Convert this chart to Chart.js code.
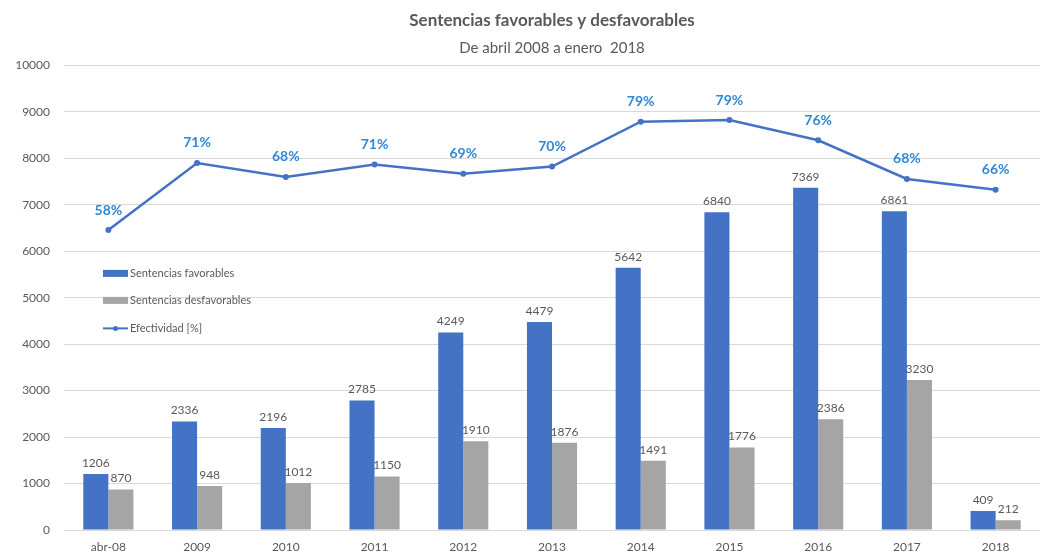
<!DOCTYPE html>
<html>
<head>
<meta charset="utf-8">
<script src="https://cdn.jsdelivr.net/npm/chart.js@4.4.1/dist/chart.umd.min.js"></script>
<style>
  html, body { margin: 0; padding: 0; background: #fff; overflow: hidden; }
  canvas { display: block; }
</style>
</head>
<body>
<canvas id="grafico" width="1048" height="558"></canvas>
<script>
// datos
var categorias = ['abr-08', '2009', '2010', '2011', '2012', '2013', '2014', '2015', '2016', '2017', '2018'];
var favorables = [1206, 2336, 2196, 2785, 4249, 4479, 5642, 6840, 7369, 6861, 409];
var desfavorables = [870, 948, 1012, 1150, 1910, 1876, 1491, 1776, 2386, 3230, 212];
var efectividad = [58.1, 71.1, 68.4, 70.8, 69.0, 70.4, 79.1, 79.4, 75.5, 68.0, 65.9]; // %

var gris = '#595959';
var fuente = 'Lato, "Open Sans", sans-serif';

// etiquetas de valores + leyenda dentro del area
var etiquetas = {
  id: 'etiquetas',
  afterDatasetsDraw: function (chart) {
    var ctx = chart.ctx;
    ctx.save();
    ctx.textAlign = 'center';
    // barras
    [0, 1].forEach(function (i) {
      var meta = chart.getDatasetMeta(i);
      var valores = chart.data.datasets[i].data;
      ctx.font = '12px ' + fuente;
      ctx.fillStyle = gris;
      ctx.textBaseline = 'bottom';
      meta.data.forEach(function (el, j) {
        ctx.fillText(valores[j], el.x, el.y - 5);
      });
    });
    // porcentajes
    var metaL = chart.getDatasetMeta(2);
    ctx.font = 'bold 14px ' + fuente;
    ctx.fillStyle = '#2F88D6';
    ctx.textBaseline = 'middle';
    metaL.data.forEach(function (el, j) {
      ctx.fillText(Math.round(efectividad[j]) + '%', el.x, el.y - 20);
    });

    // leyenda
    var a = chart.chartArea;
    var x0 = a.left + 39;
    var ys = [a.top + 208, a.top + 235, a.top + 263];
    ctx.textAlign = 'left';
    ctx.font = '11px ' + fuente;
    chart.data.datasets.forEach(function (ds, i) {
      var y = ys[i];
      if (ds.type === 'line') {
        ctx.strokeStyle = ds.borderColor;
        ctx.lineWidth = 2;
        ctx.beginPath();
        ctx.moveTo(x0, y);
        ctx.lineTo(x0 + 25, y);
        ctx.stroke();
        ctx.fillStyle = ds.borderColor;
        ctx.beginPath();
        ctx.arc(x0 + 12.5, y, 2.5, 0, Math.PI * 2);
        ctx.fill();
      } else {
        ctx.fillStyle = ds.backgroundColor;
        ctx.fillRect(x0, y - 3.5, 25, 7);
      }
      ctx.fillStyle = gris;
      ctx.fillText(ds.label, x0 + 27, y);
    });
    ctx.restore();
  }
};

new Chart(document.getElementById('grafico'), {
  data: {
    labels: categorias,
    datasets: [
      {
        type: 'bar',
        label: 'Sentencias favorables',
        data: favorables,
        backgroundColor: '#4472C4',
        categoryPercentage: 0.565,
        barPercentage: 1.0,
        yAxisID: 'y',
        order: 2
      },
      {
        type: 'bar',
        label: 'Sentencias desfavorables',
        data: desfavorables,
        backgroundColor: '#A5A5A5',
        categoryPercentage: 0.565,
        barPercentage: 1.0,
        yAxisID: 'y',
        order: 2
      },
      {
        type: 'line',
        label: 'Efectividad [%]',
        data: efectividad,
        borderColor: '#4472C4',
        backgroundColor: '#4472C4',
        borderWidth: 2.5,
        pointRadius: 3,
        pointBackgroundColor: '#4472C4',
        pointBorderWidth: 0,
        tension: 0,
        yAxisID: 'y1',
        order: 1
      }
    ]
  },
  options: {
    responsive: false,
    animation: false,
    layout: { padding: { left: 0, right: 8, top: 0, bottom: 0 } },
    plugins: {
      legend: { display: false },
      tooltip: { enabled: false },
      title: {
        display: true,
        text: 'Sentencias favorables y desfavorables',
        fullSize: false,
        color: gris,
        font: { family: fuente, size: 17, weight: 'bold' },
        padding: { top: 10, bottom: 9 }
      },
      subtitle: {
        display: true,
        text: 'De abril 2008 a enero  2018',
        fullSize: false,
        color: gris,
        font: { family: fuente, size: 15 },
        padding: { top: 0, bottom: 8 }
      }
    },
    scales: {
      x: {
        grid: { display: false, drawTicks: false },
        border: { display: false },
        ticks: { color: gris, font: { family: fuente, size: 12 }, padding: 10 },
        afterFit: function (axis) { axis.height = 28; }
      },
      y: {
        min: 0,
        max: 10000,
        ticks: {
          stepSize: 1000,
          color: gris,
          font: { family: fuente, size: 12 },
          padding: 14,
          callback: function (v) { return String(v); }
        },
        grid: { color: '#D9D9D9', drawTicks: false },
        border: { display: false },
        afterFit: function (axis) { axis.width = 64; }
      },
      y1: {
        display: false,
        min: 0,
        max: 90
      }
    }
  },
  plugins: [etiquetas]
});
</script>
</body>
</html>
